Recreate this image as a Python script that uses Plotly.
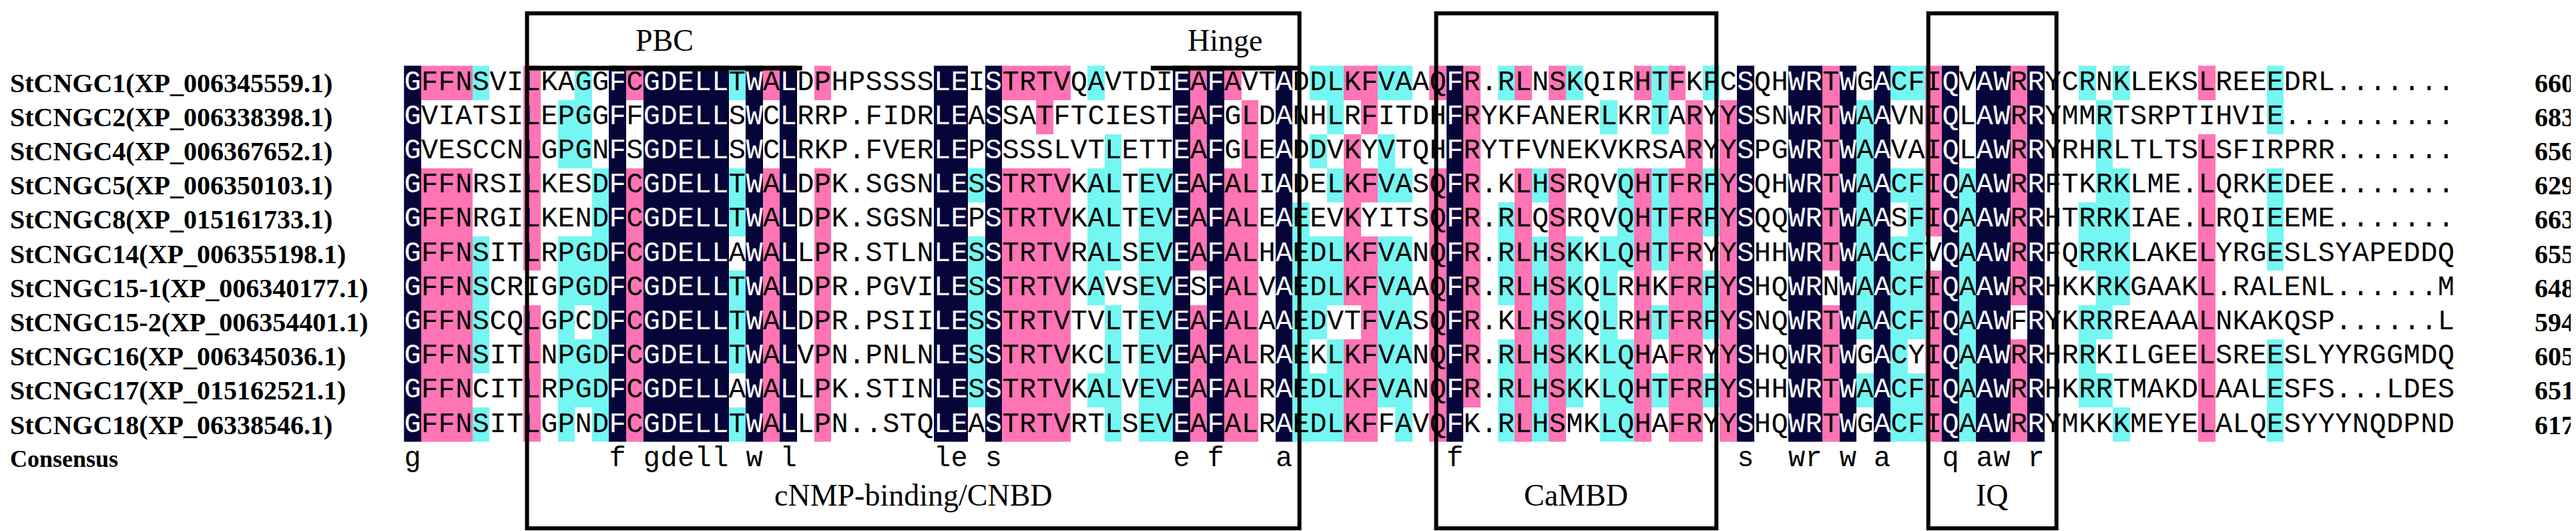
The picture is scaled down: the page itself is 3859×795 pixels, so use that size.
import plotly.graph_objects as go
from collections import Counter

names = ["StCNGC1(XP_006345559.1)", "StCNGC2(XP_006338398.1)", "StCNGC4(XP_006367652.1)",
         "StCNGC5(XP_006350103.1)", "StCNGC8(XP_015161733.1)", "StCNGC14(XP_006355198.1)",
         "StCNGC15-1(XP_006340177.1)", "StCNGC15-2(XP_006354401.1)", "StCNGC16(XP_006345036.1)",
         "StCNGC17(XP_015162521.1)", "StCNGC18(XP_06338546.1)"]

seqs = [
    "GFFNSVILKAGGFCGDELLTWALDPHPSSSSLEISTRTVQAVTDIEAFAVTADDLKFVAAQFR.RLNSKQIRHTFKFCSQHWRTWGACFIQVAWRRYCRNKLEKSLREEEDRL.......",
    "GVIATSILEPGGFFGDELLSWCLRRP.FIDRLEASSATFTCIESTEAFGLDANHLRFITDHFRYKFANERLKRTARYYSSNWRTWAAVNIQLAWRRYMMRTSRPTIHVIE..........",
    "GVESCCNLGPGNFSGDELLSWCLRKP.FVERLEPSSSSLVTLETTEAFGLEADDVKYVTQHFRYTFVNEKVKRSARYYSPGWRTWAAVAIQLAWRRYRHRLTLTSLSFIRPRR.......",
    "GFFNRSILKESDFCGDELLTWALDPK.SGSNLESSTRTVKALTEVEAFALIADELKFVASQFR.KLHSRQVQHTFRFYSQHWRTWAACFIQAAWRRFTKRKLME.LQRKEDEE.......",
    "GFFNRGILKENDFCGDELLTWALDPK.SGSNLEPSTRTVKALTEVEAFALEAEEVKYITSQFR.RLQSRQVQHTFRFYSQQWRTWAASFIQAAWRRHTRRKIAE.LRQIEEME.......",
    "GFFNSITLRPGDFCGDELLAWALLPR.STLNLESSTRTVRALSEVEAFALHAEDLKFVANQFR.RLHSKKLQHTFRYYSHHWRTWAACFVQAAWRRFQRRKLAKELYRGESLSYAPEDDQ",
    "GFFNSCRIGPGDFCGDELLTWALDPR.PGVILESSTRTVKAVSEVESFALVAEDLKFVAAQFR.RLHSKQLRHKFRFYSHQWRNWAACFIQAAWRRHKKRKGAAKL.RALENL......M",
    "GFFNSCQLGPCDFCGDELLTWALDPR.PSIILESSTRTVTVLTEVEAFALAAEDVTFVASQFR.KLHSKQLRHTFRFYSNQWRTWAACFIQAAWFRYKRRREAAALNKAKQSP......L",
    "GFFNSITLNPGDFCGDELLTWALVPN.PNLNLESSTRTVKCLTEVEAFALRAEKLKFVANQFR.RLHSKKLQHAFRYYSHQWRTWGACYIQAAWRRHRRKILGEELSREESLYYRGGMDQ",
    "GFFNCITLRPGDFCGDELLAWALLPK.STINLESSTRTVKALVEVEAFALRAEDLKFVANQFR.RLHSKKLQHTFRFYSHHWRTWAACFIQAAWRRHKRRTMAKDLAALESFS...LDES",
    "GFFNSITLGPNDFCGDELLTWALLPN..STQLEASTRTVRTLSEVEAFALRAEDLKFFAVQFK.RLHSMKLQHAFRYYSHQWRTWGACFIQAAWRRYMKKKMEYELALQESYYYNQDPND",
]
lengths = [660, 683, 656, 629, 663, 655, 648, 594, 605, 651, 617]

# domain boxes: (label, first column edge, last column edge)
domains = [("cNMP-binding/CNBD", 6.7, 51.9), ("CaMBD", 59.9, 76.3), ("IQ", 88.7, 96.2)]
sub_domains = [("PBC", 6.7, 22.8), ("Hinge", 43.2, 51.9)]

ncol = max(len(s) for s in seqs)
seqs = [s.ljust(ncol, ".") for s in seqs]
nrow = len(seqs)

# shading level per cell: 3 = identical, 2 = >=75%, 1 = >=50%
z = [[0] * ncol for _ in range(nrow)]
consensus = []
for c in range(ncol):
    col = [s[c] for s in seqs if s[c] != "."]
    if not col:
        consensus.append(" ")
        continue
    aa, n = Counter(col).most_common(1)[0]
    frac = n / nrow
    lvl = 3 if frac == 1 else 2 if frac >= 0.73 else 1 if frac >= 0.5 else 0
    consensus.append(aa.lower() if lvl == 3 else " ")
    for r in range(nrow):
        if seqs[r][c] == aa:
            z[r][c] = lvl

W, H = 3859, 795
x0, cw = 610, 25.6
y0, rh = 116, 51.2
xr = [-x0 / cw, (W - x0) / cw]
yr = [(H - y0) / rh, -y0 / rh]

fig = go.Figure()
fig.add_trace(go.Heatmap(
    z=z, x=list(range(ncol)), y=list(range(nrow)), zmin=0, zmax=3,
    colorscale=[[0, "#ffffff"], [0.25, "#ffffff"], [0.25, "#74f7f2"], [0.5, "#74f7f2"],
                [0.5, "#ff74b4"], [0.75, "#ff74b4"], [0.75, "#05053a"], [1, "#05053a"]],
    showscale=False, hoverinfo="skip"))

wx, wy, wt, bx, by, bt = [], [], [], [], [], []
for r, s in enumerate(seqs):
    for c, ch in enumerate(s):
        if z[r][c] == 3:
            wx.append(c); wy.append(r); wt.append(ch)
        else:
            bx.append(c); by.append(r); bt.append(ch)
for c, ch in enumerate(consensus):
    bx.append(c); by.append(nrow); bt.append(ch)

mono = dict(family="Liberation Mono", size=42)
fig.add_trace(go.Scatter(x=bx, y=by, text=bt, mode="text",
                         textfont=dict(color="black", **mono), hoverinfo="skip"))
fig.add_trace(go.Scatter(x=wx, y=wy, text=wt, mode="text",
                         textfont=dict(color="white", **mono), hoverinfo="skip"))

serif_b = dict(family="Liberation Serif", size=40, color="black", weight="bold")
for r, nm in enumerate(names + ["Consensus"]):
    fig.add_annotation(x=xr[0] + 0.2, y=r, text=nm, showarrow=False, xanchor="left",
                       font=dict(serif_b, size=40 if r < nrow else 36))
for r, n in enumerate(lengths):
    fig.add_annotation(x=0.998, xref="paper", y=r, text=str(n), showarrow=False,
                       xanchor="right", font=serif_b)

top, bot = (12 - y0) / rh, (783 - y0) / rh
for label, a, b in domains:
    fig.add_shape(type="rect", x0=a, x1=b, y0=top, y1=bot, line=dict(color="black", width=6))
    fig.add_annotation(x=(a + b) / 2, y=(733 - y0) / rh, text=label, showarrow=False,
                       font=dict(family="Liberation Serif", size=46, color="black"))
for label, a, b in sub_domains:
    fig.add_shape(type="line", x0=a, x1=b, y0=(94 - y0) / rh, y1=(94 - y0) / rh,
                  line=dict(color="black", width=7))
    fig.add_annotation(x=(a + b) / 2, y=(52 - y0) / rh, text=label, showarrow=False,
                       font=dict(family="Liberation Serif", size=46, color="black"))

fig.update_layout(width=W, height=H, margin=dict(l=0, r=0, t=0, b=0),
                  plot_bgcolor="white", paper_bgcolor="white", showlegend=False)
fig.update_xaxes(range=xr, visible=False)
fig.update_yaxes(range=yr, visible=False)
fig.write_html("out.html")
